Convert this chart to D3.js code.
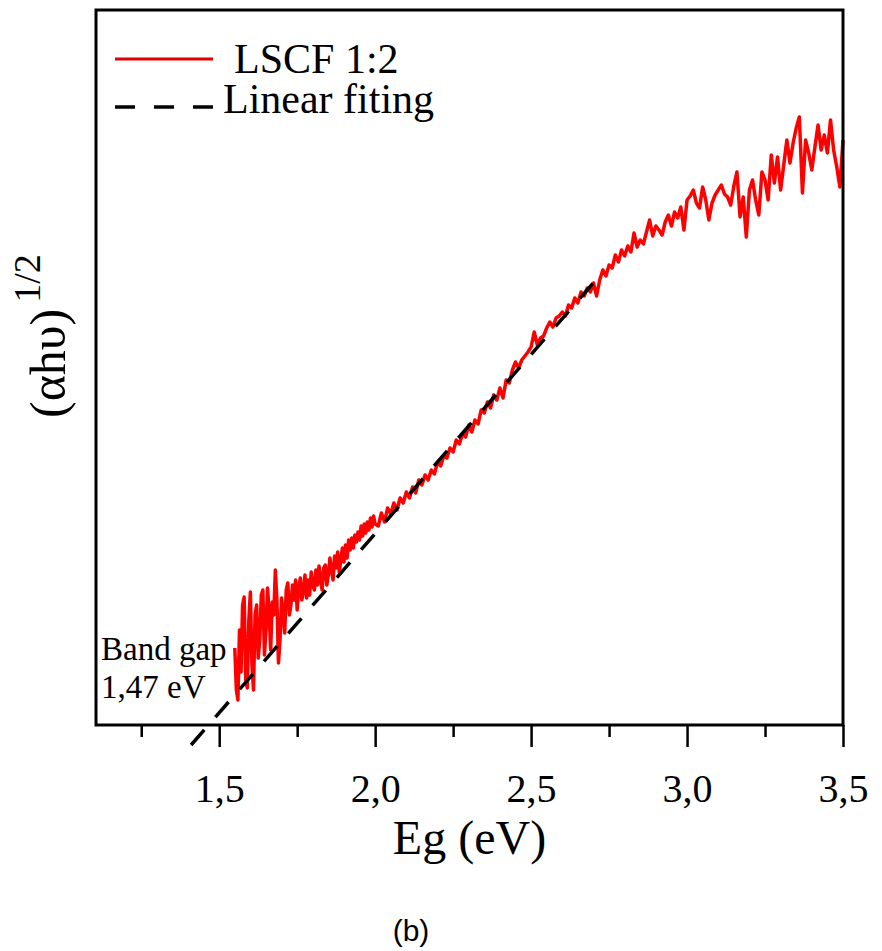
<!DOCTYPE html>
<html>
<head>
<meta charset="utf-8">
<script src="https://cdn.jsdelivr.net/npm/d3@7"></script>
<style>
  body { margin: 0; background: #fff; }
  text { font-family: "Liberation Serif", "Times New Roman", serif; fill: #000; }
  .caption { font-family: "Liberation Sans", Arial, sans-serif; }
</style>
</head>
<body>
<div id="chart"></div>
<script>
// ----- Data ------------------------------
// photon energy (eV)
const energy = [
  1.550, 1.555, 1.560, 1.565, 1.570, 1.575, 1.580, 1.585, 1.590, 1.595,
  1.600, 1.605, 1.610, 1.615, 1.620, 1.625, 1.630, 1.635, 1.640, 1.645,
  1.650, 1.655, 1.660, 1.665, 1.670, 1.675, 1.680, 1.685, 1.690, 1.695,
  1.700, 1.705, 1.710, 1.715, 1.720, 1.725, 1.730, 1.735, 1.740, 1.745,
  1.750, 1.755, 1.760, 1.765, 1.770, 1.775, 1.780, 1.785, 1.790, 1.795,
  1.800, 1.805, 1.810, 1.815, 1.820, 1.825, 1.830, 1.835, 1.840, 1.845,
  1.850, 1.855, 1.860, 1.865, 1.870, 1.875, 1.880, 1.885, 1.890, 1.895,
  1.900, 1.905, 1.910, 1.915, 1.920, 1.925, 1.930, 1.935, 1.940, 1.945,
  1.950, 1.955, 1.960, 1.965, 1.970, 1.975, 1.980, 1.985, 1.990, 1.995,
  2.000,
  2.01, 2.02, 2.03, 2.04, 2.05, 2.06, 2.07, 2.08, 2.09, 2.10, 2.11, 2.12, 2.13, 2.14,
  2.15, 2.16, 2.17, 2.18, 2.19, 2.20, 2.21, 2.22, 2.23, 2.24, 2.25, 2.26, 2.27, 2.28, 2.29,
  2.30, 2.31, 2.32, 2.33, 2.34, 2.35, 2.36, 2.37, 2.38, 2.39, 2.40, 2.41, 2.42, 2.43, 2.44,
  2.45, 2.46, 2.47, 2.48, 2.49, 2.50, 2.51, 2.52, 2.53, 2.54, 2.55, 2.56, 2.57, 2.58, 2.59,
  2.60, 2.61, 2.62, 2.63, 2.64, 2.65, 2.66, 2.67, 2.68, 2.69, 2.70, 2.71, 2.72, 2.73, 2.74,
  2.75, 2.76, 2.77, 2.78, 2.79, 2.80, 2.81, 2.82, 2.83, 2.84, 2.85, 2.86, 2.87, 2.88, 2.89,
  2.90, 2.91, 2.92, 2.93, 2.94, 2.95, 2.96, 2.97, 2.98, 2.99, 3.00, 3.01, 3.02, 3.03, 3.04,
  3.05, 3.06, 3.07, 3.08, 3.09, 3.10, 3.11, 3.12, 3.13, 3.14, 3.15, 3.16, 3.17, 3.18, 3.19,
  3.20, 3.21, 3.22, 3.23, 3.24, 3.25, 3.26, 3.27, 3.28, 3.29, 3.30, 3.31, 3.32, 3.33, 3.34,
  3.35, 3.36, 3.37, 3.38, 3.39, 3.40, 3.41, 3.42, 3.43, 3.44, 3.45, 3.46, 3.47, 3.48, 3.49,
  3.50
];

// (alpha h nu)^1/2, arbitrary units
const tauc = [
  0.77, 0.35, 0.25, 0.95, 0.53, 1.20, 1.28, 0.45, 0.37, 1.05,
  1.33, 0.60, 0.35, 1.10, 1.20, 0.67, 0.85, 1.30, 1.35, 0.70,
  0.95, 1.37, 1.13, 0.75, 1.23, 1.10, 1.55, 1.25, 0.62, 0.85,
  1.27, 1.13, 0.92, 1.35, 1.42, 1.10, 1.20, 1.40, 1.25, 1.45,
  1.15, 1.37, 1.47, 1.25, 1.35, 1.50, 1.27, 1.45, 1.30, 1.53,
  1.40, 1.35, 1.55, 1.40, 1.59, 1.45, 1.35, 1.57, 1.60, 1.40,
  1.50, 1.67, 1.55, 1.45, 1.69, 1.57, 1.73, 1.53, 1.65, 1.77,
  1.63, 1.80, 1.67, 1.85, 1.75, 1.87, 1.77, 1.90, 1.83, 1.93,
  1.85, 1.99, 1.89, 2.01, 1.92, 2.03, 1.95, 2.07, 1.98, 2.09,
  2.01,
  1.99, 2.12, 2.03, 2.17, 2.11, 2.22, 2.15, 2.27, 2.22, 2.33, 2.27, 2.38, 2.32, 2.45,
  2.40, 2.50, 2.45, 2.55, 2.51, 2.63, 2.59, 2.69, 2.67, 2.77, 2.73, 2.85, 2.81, 2.91, 2.88,
  3.00, 2.93, 3.05, 3.01, 3.15, 3.12, 3.23, 3.17, 3.30, 3.25, 3.37, 3.27, 3.45, 3.42, 3.55,
  3.63, 3.57, 3.65, 3.69, 3.73, 3.78, 3.93, 3.80, 3.87, 3.89, 3.97, 4.03, 3.98, 4.07, 4.09,
  4.13, 4.09, 4.20, 4.17, 4.27, 4.22, 4.33, 4.29, 4.37, 4.33, 4.42, 4.29, 4.45, 4.55, 4.49,
  4.60, 4.57, 4.70, 4.63, 4.75, 4.69, 4.79, 4.73, 4.92, 4.78, 4.85, 4.81, 4.93, 5.05, 4.89,
  4.99, 4.95, 4.90, 5.03, 5.10, 4.99, 5.13, 5.07, 5.18, 4.95, 5.25, 5.29, 5.35, 5.22, 5.17,
  5.38, 5.25, 5.05, 5.22, 5.30, 5.35, 5.40, 5.31, 5.28, 5.20, 5.39, 5.53, 5.08, 5.28, 4.88,
  5.35, 5.45, 5.25, 5.10, 5.53, 5.45, 5.25, 5.70, 5.42, 5.68, 5.35, 5.60, 5.85, 5.62, 5.82,
  5.97, 6.08, 5.32, 5.85, 5.72, 5.55, 5.78, 6.00, 5.75, 5.90, 5.72, 6.05, 5.75, 5.58, 5.38,
  5.85
];

// linear fit end points [eV, a.u.]
const fitLine = [[1.41, -0.2], [2.73, 4.53]];

const xTicks = [1.5, 2.0, 2.5, 3.0, 3.5];
const xMinorTicks = [1.25, 1.75, 2.25, 2.75, 3.25];

const seriesNames = ["LSCF 1:2", "Linear fiting"];
const bandGapText = ["Band gap", "1,47 eV"];

// ----- SVG -------
const W = 882, H = 951;
const mLeft = 96, mRight = 843, mTop = 10, mBottom = 725;

const svg = d3.select("#chart").append("svg").attr("width", W).attr("height", H);

svg.append("rect")
  .attr("width", W)
  .attr("height", H)
  .attr("fill", "#fff");

const x = d3.scaleLinear().domain([1.105, 3.5]).range([mLeft, mRight]);
const y = d3.scaleLinear().domain([0, 7.15]).range([mBottom, mTop]);

// ----- Axis ticks -------
const fmt = d => d3.format(".1f")(d).replace(".", ",");

const xAxis = svg.append("g")
  .attr("transform", `translate(0,${mBottom})`)
  .call(d3.axisBottom(x).tickValues(xTicks).tickSize(22).tickPadding(27).tickFormat(fmt));

xAxis.select(".domain").remove();
xAxis.selectAll("line").attr("stroke", "#000").attr("stroke-width", 2.5);
xAxis.selectAll("text")
  .attr("fill", "#000")
  .style("font-family", '"Liberation Serif", "Times New Roman", serif')
  .style("font-size", "40px");

const xMinor = svg.append("g")
  .attr("transform", `translate(0,${mBottom})`)
  .call(d3.axisBottom(x).tickValues(xMinorTicks).tickSize(12).tickFormat(""));

xMinor.select(".domain").remove();
xMinor.selectAll("line").attr("stroke", "#000").attr("stroke-width", 2.5);

// ----- Data lines -------
const line = d3.line()
  .x(d => x(d[0]))
  .y(d => y(d[1]));

svg.append("path")
  .datum(energy.map((e, i) => [e, tauc[i]]))
  .attr("d", line)
  .attr("fill", "none")
  .attr("stroke", "#ff0000")
  .attr("stroke-width", 3.5)
  .attr("stroke-linejoin", "round");

svg.append("path")
  .datum(fitLine)
  .attr("d", line)
  .attr("fill", "none")
  .attr("stroke", "#000")
  .attr("stroke-width", 3.5)
  .attr("stroke-dasharray", "20,17");

// ----- Frame -------
svg.append("rect")
  .attr("x", mLeft)
  .attr("y", mTop)
  .attr("width", mRight - mLeft)
  .attr("height", mBottom - mTop)
  .attr("fill", "none")
  .attr("stroke", "#000")
  .attr("stroke-width", 3);

// ----- Legend -------
svg.append("line")
  .attr("x1", 115).attr("x2", 213)
  .attr("y1", 59).attr("y2", 59)
  .attr("stroke", "#e00000")
  .attr("stroke-width", 3);

svg.append("line")
  .attr("x1", 115).attr("x2", 213)
  .attr("y1", 107).attr("y2", 107)
  .attr("stroke", "#000")
  .attr("stroke-width", 3.5)
  .attr("stroke-dasharray", "20,19");

svg.append("text")
  .attr("x", 234)
  .attr("y", 73)
  .style("font-size", "42px")
  .text(seriesNames[0]);

svg.append("text")
  .attr("x", 223)
  .attr("y", 113)
  .style("font-size", "42px")
  .text(seriesNames[1]);

// ----- Band gap note -------
svg.append("text")
  .attr("x", 101)
  .attr("y", 660)
  .style("font-size", "33px")
  .text(bandGapText[0]);

svg.append("text")
  .attr("x", 101)
  .attr("y", 698)
  .style("font-size", "33px")
  .text(bandGapText[1]);

// ----- Axis titles -------
svg.append("text")
  .attr("x", (mLeft + mRight) / 2)
  .attr("y", 854)
  .attr("text-anchor", "middle")
  .style("font-size", "48px")
  .text("Eg (eV)");

const yLab = svg.append("text")
  .attr("transform", "translate(65,418) rotate(-90)")
  .style("font-size", "50px");

yLab.append("tspan").text("(\u03b1h\u03c5)");
yLab.append("tspan")
  .attr("dx", 6)
  .attr("dy", -25)
  .style("font-size", "38px")
  .text("1/2");

// ----- Caption -------
svg.append("text")
  .attr("class", "caption")
  .attr("x", 411)
  .attr("y", 941)
  .attr("text-anchor", "middle")
  .style("font-size", "30px")
  .text("(b)");
</script>
</body>
</html>
